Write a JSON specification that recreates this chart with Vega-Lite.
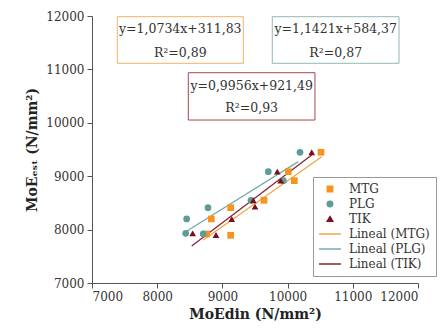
{
  "$schema": "https://vega.github.io/schema/vega-lite/v6.json",
  "width": 326,
  "height": 267,
  "autosize": {"type": "none"},
  "padding": {"left": 92, "top": 16, "right": 26, "bottom": 51},
  "background": "white",
  "config": {
    "view": {"stroke": null},
    "font": "DejaVu Serif",
    "axis": {
      "grid": false,
      "domainColor": "#555",
      "tickColor": "#555",
      "labelColor": "#333",
      "labelFont": "DejaVu Serif",
      "labelFontSize": 12,
      "titleFont": "DejaVu Serif",
      "titleFontSize": 14,
      "titleFontWeight": "bold",
      "titleColor": "#222",
      "labelPadding": 3
    },
    "legend": {
      "orient": "none",
      "legendX": 221,
      "legendY": 161,
      "strokeColor": "#999",
      "fillColor": "white",
      "padding": 6,
      "labelFont": "DejaVu Serif",
      "labelFontSize": 12,
      "labelColor": "#333",
      "rowPadding": 3,
      "symbolSize": 30
    }
  },
  "datasets": {
    "pts": [
      {"series": "MTG", "din": 10512, "est": 9448},
      {"series": "MTG", "din": 10011, "est": 9084},
      {"series": "MTG", "din": 10103, "est": 8916},
      {"series": "MTG", "din": 9638, "est": 8549},
      {"series": "MTG", "din": 9127, "est": 8410},
      {"series": "MTG", "din": 8830, "est": 8199},
      {"series": "MTG", "din": 9127, "est": 7893},
      {"series": "MTG", "din": 8759, "est": 7918},
      {"series": "PLG", "din": 10190, "est": 9448},
      {"series": "PLG", "din": 9704, "est": 9084},
      {"series": "PLG", "din": 9934, "est": 8916},
      {"series": "PLG", "din": 9439, "est": 8549},
      {"series": "PLG", "din": 8779, "est": 8410},
      {"series": "PLG", "din": 8452, "est": 8199},
      {"series": "PLG", "din": 8437, "est": 7931},
      {"series": "PLG", "din": 8707, "est": 7918},
      {"series": "TIK", "din": 10370, "est": 9448},
      {"series": "TIK", "din": 9842, "est": 9084},
      {"series": "TIK", "din": 9894, "est": 8916},
      {"series": "TIK", "din": 9474, "est": 8549},
      {"series": "TIK", "din": 9500, "est": 8429},
      {"series": "TIK", "din": 9143, "est": 8199},
      {"series": "TIK", "din": 8544, "est": 7931},
      {"series": "TIK", "din": 8902, "est": 7899}
    ],
    "fits": [
      {"series": "Lineal (MTG)", "din": 8707, "est": 7805},
      {"series": "Lineal (MTG)", "din": 10523, "est": 9365},
      {"series": "Lineal (PLG)", "din": 8400, "est": 7931},
      {"series": "Lineal (PLG)", "din": 10164, "est": 9272},
      {"series": "Lineal (TIK)", "din": 8529, "est": 7693},
      {"series": "Lineal (TIK)", "din": 10370, "est": 9397}
    ],
    "boxes": [
      {"grp": "MTG", "x1": 7388, "x2": 9321, "y1": 11987, "y2": 11114},
      {"grp": "PLG", "x1": 9765, "x2": 11709, "y1": 11987, "y2": 11114},
      {"grp": "TIK", "x1": 8477, "x2": 10420, "y1": 10938, "y2": 10052}
    ],
    "labels": [
      {"text": "y=1,0734x+311,83", "x": 8354, "y": 11751},
      {"text": "R²=0,89", "x": 8354, "y": 11313},
      {"text": "y=1,1421x+584,37", "x": 10738, "y": 11751},
      {"text": "R²=0,87", "x": 10738, "y": 11313},
      {"text": "y=0,9956x+921,49", "x": 9449, "y": 10689},
      {"text": "R²=0,93", "x": 9449, "y": 10272}
    ]
  },
  "layer": [
    {
      "data": {"name": "boxes"},
      "mark": {"type": "rect", "fill": "white", "strokeWidth": 1},
      "encoding": {
        "x": {"field": "x1", "type": "quantitative", "scale": {"domain": [7000, 12000], "nice": false, "zero": false},
          "axis": {
            "title": "MoEdin (N/mm²)",
            "values": [7000, 7500, 8000, 8500, 9000, 9500, 10000, 10500, 11000, 11500, 12000],
            "format": "d",
            "labelExpr": "datum.value % 1000 === 0 ? datum.label : ''",
            "tickSize": {"condition": {"test": "datum.value % 1000 === 0", "value": 5}, "value": 3},
            "titlePadding": 5
          }},
        "x2": {"field": "x2"},
        "y": {"field": "y1", "type": "quantitative", "scale": {"domain": [7000, 12000], "nice": false, "zero": false},
          "axis": {
            "title": "MoEₑₛₜ (N/mm²)",
            "values": [7000, 7500, 8000, 8500, 9000, 9500, 10000, 10500, 11000, 11500, 12000],
            "format": "d",
            "labelExpr": "datum.value % 1000 === 0 ? datum.label : ''",
            "tickSize": {"condition": {"test": "datum.value % 1000 === 0", "value": 5}, "value": 3},
            "titlePadding": 6
          }},
        "y2": {"field": "y2"},
        "stroke": {"field": "grp", "type": "nominal", "scale": {"domain": ["MTG", "PLG", "TIK"], "range": ["#f2b366", "#8fb9b9", "#a3474f"]}, "legend": null}
      }
    },
    {
      "data": {"name": "labels"},
      "mark": {"type": "text", "fontSize": 12.5, "font": "DejaVu Serif", "color": "#333", "baseline": "middle", "align": "center"},
      "encoding": {
        "x": {"field": "x", "type": "quantitative"},
        "y": {"field": "y", "type": "quantitative"},
        "text": {"field": "text"}
      }
    },
    {
      "data": {"name": "fits"},
      "mark": {"type": "line", "strokeWidth": 1.3},
      "encoding": {
        "x": {"field": "din", "type": "quantitative"},
        "y": {"field": "est", "type": "quantitative"},
        "color": {"field": "series", "type": "nominal",
          "scale": {"domain": ["MTG", "PLG", "TIK", "Lineal (MTG)", "Lineal (PLG)", "Lineal (TIK)"],
                    "range": ["#f7941d", "#5e9b9b", "#7a0d1e", "#f5a445", "#76abab", "#8a2434"]},
          "legend": {"title": null, "encode": {
            "symbols": {"update": {"x": {"value": 11}, "stroke": {"scale": "color", "field": "value"}, "strokeWidth": {"value": 1.5}}},
            "labels": {"update": {"x": {"value": 30}}}}}}
      }
    },
    {
      "data": {"name": "pts"},
      "mark": {"type": "point", "filled": true, "opacity": 1, "size": 45},
      "encoding": {
        "x": {"field": "din", "type": "quantitative"},
        "y": {"field": "est", "type": "quantitative"},
        "color": {"field": "series", "type": "nominal",
          "scale": {"domain": ["MTG", "PLG", "TIK", "Lineal (MTG)", "Lineal (PLG)", "Lineal (TIK)"],
                    "range": ["#f7941d", "#5e9b9b", "#7a0d1e", "#f5a445", "#76abab", "#8a2434"]},
          "legend": {"title": null, "encode": {
            "symbols": {"update": {"x": {"value": 11}, "stroke": {"scale": "color", "field": "value"}, "strokeWidth": {"value": 1.5}}},
            "labels": {"update": {"x": {"value": 30}}}}}},
        "shape": {"field": "series", "type": "nominal",
          "scale": {"domain": ["MTG", "PLG", "TIK", "Lineal (MTG)", "Lineal (PLG)", "Lineal (TIK)"],
                    "range": ["square", "circle", "triangle-up", "M-4,0H4", "M-4,0H4", "M-4,0H4"]},
          "legend": {"title": null}}
      }
    }
  ]
}
